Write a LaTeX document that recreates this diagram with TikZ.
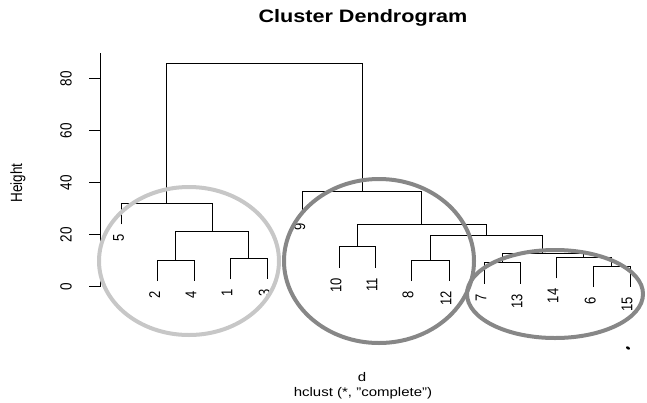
\documentclass[tikz,border=0pt]{standalone}
\usepackage{graphicx}
\usepackage{fontspec}
\setmainfont{Liberation Sans}
\newcommand\xw[1]{\scalebox{1.2}[1]{#1}}
\newcommand\yw[1]{\scalebox{1}[1.2]{#1}}
\tikzset{leaf/.style={rotate=90,anchor=east,inner sep=0pt,font=\fontsize{13}{13}\selectfont},
  ticklab/.style={rotate=90,inner sep=0pt,font=\fontsize{13.5}{13.5}\selectfont},
  ring/.style={line width=4pt}}
\begin{document}
\begin{tikzpicture}[x=1pt,y=-1pt,line width=.8pt]
\useasboundingbox(0,0)rectangle(647,402);
\node[font=\bfseries\fontsize{18}{18}\selectfont] (title) at (363,18){\xw{Cluster Dendrogram}};
% axis
\draw(100,53)--(100,286.7);
\foreach \v in {0,20,40,60,80}{\draw(89,286.7-2.6*\v)--(100,286.7-2.6*\v);\node[ticklab] (t\v) at (66,286.7-2.6*\v){\yw{\v}};}
\node[ticklab] (ylab) at (18,183){\yw{Height}};
% tree
\draw(166,203.3)--(166,63.3)--(362.3,63.3)--(362.3,191);
\draw(121.7,224.3)--(121.7,203.3)--(212.3,203.3)--(212.3,231.7);
\draw(175,260)--(175,231.7)--(248.3,231.7)--(248.3,258.3);
\draw(157.7,281)--(157.7,260)--(194,260)--(194,281);\draw(230,279.3)--(230,258.3)--(267.3,258.3)--(267.3,279.3);
\draw(302.7,212.7)--(302.7,191)--(421.7,191)--(421.7,224.3);
\draw(357.7,246.7)--(357.7,224.3)--(486.7,224.3)--(486.7,235.5);
\draw(339,267.7)--(339,246.7)--(375,246.7)--(375,267.7);
\draw(430,260)--(430,235.5)--(542.7,235.5)--(542.7,253.3);
\draw(411,281)--(411,260)--(449,260)--(449,281);
\draw(502,262.7)--(502,253.3)--(583.7,253.3)--(583.7,257.3);
\draw(484,283.7)--(484,262.7)--(520,262.7)--(520,283.7);
\draw(556,278.3)--(556,257.3)--(611.3,257.3)--(611.3,266);
\draw(593.3,287)--(593.3,266)--(630,266)--(630,287);
\foreach \n/\x/\y in {5/121.7/224.3,2/157.7/281,4/194/281,1/230/279.3,3/267.3/279.3,9/302.7/212.7,10/339/267.7,11/375/267.7,8/411/281,12/449/281,7/484/283.7,13/520/283.7,14/556/278.3,6/593.3/287,15/630/287}
  \node[leaf] (l\n) at (\x-3,\y+10){\yw{\n}};
% clusters
\draw[ring,black!22](189,261)ellipse(90 and 74);
\draw[ring,black!47](379,261)ellipse(95 and 82);
\draw[ring,black!47](555,294)ellipse(88 and 44);
\fill[rotate around={-30:(628,348)}](628,348)ellipse(2.2 and 1.4);
\node[font=\fontsize{12.5}{12.5}\selectfont] (dlab) at (362,377){\xw{d}};
\node[font=\fontsize{12.5}{12.5}\selectfont] (method) at (363,393){\xw{hclust (*, "complete")}};
\end{tikzpicture}
\end{document}
